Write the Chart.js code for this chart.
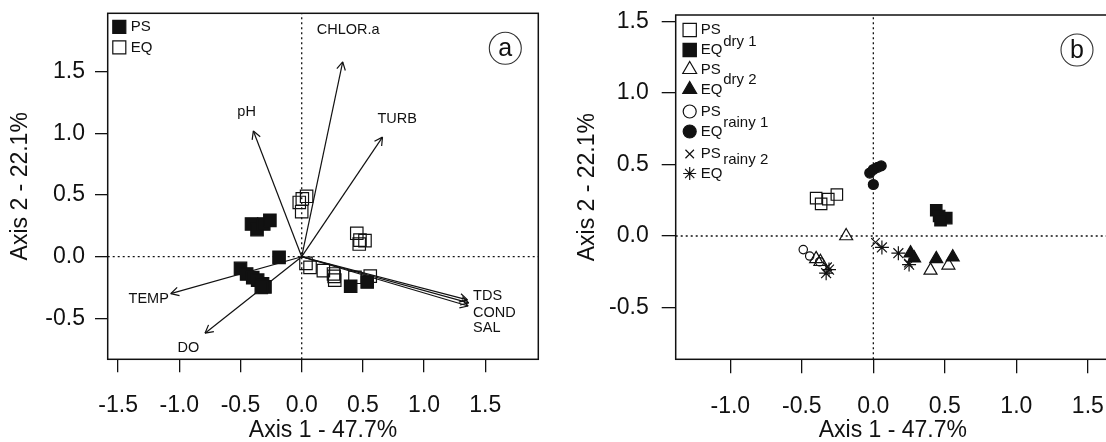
<!DOCTYPE html>
<html>
<head>
<meta charset="utf-8">
<title>PCA biplots</title>
<script src="https://cdn.jsdelivr.net/npm/chart.js@4.4.1/dist/chart.umd.min.js"></script>
<style>
  html, body { margin: 0; padding: 0; background: #fff; overflow: hidden; }
  body { width: 1106px; height: 442px; position: relative; }
  #chartA { position: absolute; left: 0; top: 0; }
  #chartB { position: absolute; left: 560px; top: 0; }
</style>
</head>
<body>
<canvas id="chartA" width="560" height="442"></canvas>
<canvas id="chartB" width="560" height="442"></canvas>
<script>
const FONT = '"Liberation Sans", Arial, sans-serif';
const INK = '#111';

// AXES

const xLimA = [-1.585, 1.933];
const yLimA = [-0.832, 1.974];
const xTicksA = [-1.5, -1.0, -0.5, 0.0, 0.5, 1.0, 1.5];
const yTicksA = [-0.5, 0.0, 0.5, 1.0, 1.5];

const xLimB = [-1.382, 1.655];
const yLimB = [-0.862, 1.545];
const xTicksB = [-1.0, -0.5, 0.0, 0.5, 1.0, 1.5];
const yTicksB = [-0.5, 0.0, 0.5, 1.0, 1.5];

const xTitle = 'Axis 1 - 47.7%';
const yTitle = 'Axis 2 - 22.1%';

// PANEL A : sites

const psAX = [-0.41, -0.365, -0.31, -0.26, -0.185, -0.50, -0.45, -0.40, -0.36, -0.32, -0.30, -0.33, 0.40, 0.535];
const psAY = [0.265, 0.22, 0.265, 0.295, -0.005, -0.095, -0.14, -0.17, -0.19, -0.22, -0.245, -0.25, -0.24, -0.205];
const eqAX = [-0.02, 0.005, 0.04, 0.0, 0.035, 0.068, 0.177, 0.26, 0.265, 0.27, 0.435, 0.56, 0.45, 0.476, 0.517, 0.47];
const eqAY = [0.44, 0.47, 0.49, 0.365, -0.054, -0.086, -0.113, -0.14, -0.16, -0.19, -0.167, -0.157, 0.19, 0.135, 0.13, 0.103];

// PANEL A : variables

const varNames = ['CHLOR.a', 'pH', 'TURB', 'TEMP', 'DO', 'TDS', 'COND', 'SAL'];
const varX = [0.335, -0.395, 0.66, -1.07, -0.79, 1.355, 1.365, 1.36];
const varY = [1.58, 1.02, 0.97, -0.30, -0.62, -0.35, -0.375, -0.40];
const varLabX = [0.38, -0.45, 0.78, -1.25, -0.926, 1.40, 1.40, 1.40];
const varLabY = [1.84, 1.17, 1.12, -0.345, -0.743, -0.32, -0.454, -0.58];
const varLabAlign = ['center', 'center', 'center', 'center', 'center', 'left', 'left', 'left'];

// PANEL B : sites by season

const psDry1X = [-0.40, -0.365, -0.315, -0.255];
const psDry1Y = [0.265, 0.225, 0.258, 0.29];
const eqDry1X = [0.44, 0.46, 0.51, 0.47];
const eqDry1Y = [0.18, 0.14, 0.125, 0.11];
const psDry2X = [-0.19, -0.40, -0.37, 0.40, 0.525];
const psDry2Y = [0.0, -0.16, -0.18, -0.24, -0.205];
const eqDry2X = [0.26, 0.285, 0.44, 0.555];
const eqDry2Y = [-0.12, -0.155, -0.16, -0.148];
const psRainy1X = [-0.49, -0.445, -0.375];
const psRainy1Y = [-0.095, -0.14, -0.18];
const eqRainy1X = [-0.025, 0.0, 0.03, 0.055, 0.0];
const eqRainy1Y = [0.44, 0.465, 0.48, 0.49, 0.36];
const psRainy2X = [-0.32, 0.015, 0.245];
const psRainy2Y = [-0.215, -0.045, -0.19];
const eqRainy2X = [-0.31, -0.33, 0.06, 0.175, 0.25];
const eqRainy2Y = [-0.235, -0.26, -0.08, -0.12, -0.2];

const legendA = [
    { label: 'PS', style: 'rect', filled: true },
    { label: 'EQ', style: 'rect', filled: false },
];
const legendB = [
    { label: 'PS', style: 'rect', filled: false },
    { label: 'EQ', style: 'rect', filled: true },
    { label: 'PS', style: 'triangle', filled: false },
    { label: 'EQ', style: 'triangle', filled: true },
    { label: 'PS', style: 'circle', filled: false },
    { label: 'EQ', style: 'circle', filled: true },
    { label: 'PS', style: 'crossRot', filled: false },
    { label: 'EQ', style: 'star', filled: false },
];
const seasonB = ['dry 1', 'dry 2', 'rainy 1', 'rainy 2'];


// HELPERS

const pts = (xs, ys) => xs.map((x, i) => ({ x: x, y: ys[i] }));

function marks(xs, ys, style, filled, r) {
    return {
        data: pts(xs, ys),
        pointStyle: style,
        pointRadius: r,
        pointBackgroundColor: filled ? INK : 'rgba(0,0,0,0)',
        pointBorderColor: INK,
        pointBorderWidth: 1.2,
        showLine: false,
    };
}

function refLines(xl, yl) {
    const base = { showLine: true, pointRadius: 0, borderColor: INK, borderWidth: 1.3, borderDash: [2, 3] };
    return [
        Object.assign({ data: [{ x: 0, y: yl[0] }, { x: 0, y: yl[1] }] }, base),
        Object.assign({ data: [{ x: xl[0], y: 0 }, { x: xl[1], y: 0 }] }, base),
    ];
}

function scalesFor(xl, yl, xt, yt, o) {
    return {
        x: {
            type: 'linear', min: xl[0], max: xl[1],
            afterBuildTicks: s => { s.ticks = xt.map(v => ({ value: v })); },
            afterFit: s => { s.height = o.xh; s.paddingLeft = 0; s.paddingRight = 0; },
            border: { display: false },
            grid: { drawOnChartArea: false, tickLength: o.xtl, color: INK, lineWidth: 1.3 },
            ticks: { padding: o.xpad, color: INK, font: { family: FONT, size: 23 }, maxRotation: 0, autoSkip: false, callback: v => v.toFixed(1) },
            title: { display: true, text: xTitle, color: INK, font: { family: FONT, size: 23, lineHeight: 1 }, padding: { top: 0, bottom: o.xtpad } },
        },
        y: {
            type: 'linear', min: yl[0], max: yl[1],
            afterBuildTicks: s => { s.ticks = yt.map(v => ({ value: v })); },
            afterFit: s => { s.width = o.yw; s.paddingTop = 0; s.paddingBottom = 0; },
            border: { display: false },
            grid: { drawOnChartArea: false, tickLength: o.ytl, color: INK, lineWidth: 1.3 },
            ticks: { padding: o.ypad, color: INK, font: { family: FONT, size: 23 }, autoSkip: false, callback: v => v.toFixed(1) },
            title: { display: true, text: yTitle, color: INK, font: { family: FONT, size: 23, lineHeight: 1 }, padding: { top: o.ytpad, bottom: 0 } },
        },
    };
}

function drawMark(ctx, style, filled, x, y, r) {
    ctx.beginPath();
    if (style === 'rect') {
        const s = r * Math.SQRT1_2;
        ctx.rect(x - s, y - s, 2 * s, 2 * s);
    } else if (style === 'circle') {
        ctx.arc(x, y, r, 0, Math.PI * 2);
    } else if (style === 'triangle') {
        ctx.moveTo(x, y - r);
        ctx.lineTo(x + r * 0.866, y + r * 0.5);
        ctx.lineTo(x - r * 0.866, y + r * 0.5);
        ctx.closePath();
    } else {
        const d = r * Math.SQRT1_2;
        ctx.moveTo(x - d, y - d); ctx.lineTo(x + d, y + d);
        ctx.moveTo(x - d, y + d); ctx.lineTo(x + d, y - d);
        if (style === 'star') {
            ctx.moveTo(x - r, y); ctx.lineTo(x + r, y);
            ctx.moveTo(x, y - r); ctx.lineTo(x, y + r);
        }
    }
    if (filled) ctx.fill();
    ctx.stroke();
}

const boxPlugin = {
    id: 'box',
    afterDatasetsDraw(chart) {
        const { ctx, chartArea: a } = chart;
        ctx.save();
        ctx.strokeStyle = INK;
        ctx.lineWidth = 1.5;
        ctx.strokeRect(a.left, a.top, a.right - a.left, a.bottom - a.top);
        ctx.restore();
    }
};

function panelTag(letter) {
    return {
        id: 'tag',
        afterDraw(chart) {
            const { ctx, chartArea: a } = chart;
            const cx = a.right - 33, cy = a.top + 35;
            ctx.save();
            ctx.strokeStyle = '#333';
            ctx.lineWidth = 1.1;
            ctx.beginPath();
            ctx.arc(cx, cy, 16, 0, Math.PI * 2);
            ctx.stroke();
            ctx.fillStyle = INK;
            ctx.font = '25px ' + FONT;
            ctx.textAlign = 'center';
            ctx.textBaseline = 'middle';
            ctx.fillText(letter, cx, cy + 1);
            ctx.restore();
        }
    };
}


// GRAPH A

const arrowPlugin = {
    id: 'arrows',
    afterDatasetsDraw(chart) {
        const { ctx, scales: { x, y } } = chart;
        const x0 = x.getPixelForValue(0), y0 = y.getPixelForValue(0);
        ctx.save();
        ctx.strokeStyle = INK;
        ctx.lineWidth = 1.2;
        varX.forEach((vx, i) => {
            const x1 = x.getPixelForValue(vx), y1 = y.getPixelForValue(varY[i]);
            const ang = Math.atan2(y1 - y0, x1 - x0);
            ctx.beginPath();
            [-1, 1].forEach(s => {
                ctx.moveTo(x1, y1);
                ctx.lineTo(x1 - 9 * Math.cos(ang + s * 0.5), y1 - 9 * Math.sin(ang + s * 0.5));
            });
            ctx.stroke();
        });
        ctx.fillStyle = INK;
        ctx.font = '14.5px ' + FONT;
        ctx.textBaseline = 'middle';
        varNames.forEach((n, i) => {
            ctx.textAlign = varLabAlign[i];
            ctx.fillText(n, x.getPixelForValue(varLabX[i]), y.getPixelForValue(varLabY[i]));
        });
        ctx.restore();
    }
};

const legendPluginA = {
    id: 'legendA',
    afterDraw(chart) {
        const { ctx, chartArea: a } = chart;
        ctx.save();
        ctx.strokeStyle = INK;
        ctx.fillStyle = INK;
        ctx.lineWidth = 1.2;
        ctx.font = '15px ' + FONT;
        ctx.textBaseline = 'middle';
        legendA.forEach((e, i) => {
            const yy = a.top + 13.5 + i * 20.6;
            drawMark(ctx, e.style, e.filled, a.left + 11.6, yy, 9.2);
            ctx.fillText(e.label, a.left + 23, yy);
        });
        ctx.restore();
    }
};

const arrowSets = varX.map((vx, i) => ({
    data: [{ x: 0, y: 0 }, { x: vx, y: varY[i] }],
    showLine: true, pointRadius: 0, borderColor: INK, borderWidth: 1.2,
}));

const chartA = new Chart(document.getElementById('chartA'), {
    type: 'scatter',
    data: {
        datasets: [
            marks(psAX, psAY, 'rect', true, 8.8),
            marks(eqAX, eqAY, 'rect', false, 8.8),
            ...arrowSets,
            ...refLines(xLimA, yLimA),
        ]
    },
    options: {
        responsive: false,
        animation: false,
        layout: { padding: { top: 13.3, right: 21.7, bottom: 0, left: 0 } },
        plugins: { legend: { display: false }, tooltip: { enabled: false } },
        scales: scalesFor(xLimA, yLimA, xTicksA, yTicksA, { xh: 82.7, xtl: 13, xpad: 20, xtpad: 0, yw: 107.7, ytl: 12.7, ypad: 10, ytpad: 9.5 }),
    },
    plugins: [boxPlugin, arrowPlugin, legendPluginA, panelTag('a')],
});

// FIN GRAPH A


// GRAPH B

const legendPluginB = {
    id: 'legendB',
    afterDraw(chart) {
        const { ctx, chartArea: a } = chart;
        const rows = [15, 35, 54.5, 74.5, 96.5, 116.5, 139, 158.5];
        const sizes = { rect: 9.4, triangle: 8, circle: 6.5, crossRot: 6, star: 6.5 };
        ctx.save();
        ctx.strokeStyle = INK;
        ctx.fillStyle = INK;
        ctx.lineWidth = 1.2;
        ctx.font = '15px ' + FONT;
        ctx.textBaseline = 'middle';
        legendB.forEach((e, i) => {
            const yy = a.top + rows[i];
            drawMark(ctx, e.style, e.filled, a.left + 14, yy, sizes[e.style]);
            ctx.fillText(e.label, a.left + 25, yy);
        });
        const seasonRows = [26.7, 64.5, 108.3, 145];
        seasonB.forEach((s, i) => {
            ctx.fillText(s, a.left + 47.5, a.top + seasonRows[i]);
        });
        ctx.restore();
    }
};

const chartB = new Chart(document.getElementById('chartB'), {
    type: 'scatter',
    data: {
        datasets: [
            marks(psDry1X, psDry1Y, 'rect', false, 8.1),
            marks(eqDry1X, eqDry1Y, 'rect', true, 8.1),
            marks(psDry2X, psDry2Y, 'triangle', false, 7.5),
            marks(eqDry2X, eqDry2Y, 'triangle', true, 7.5),
            marks(psRainy1X, psRainy1Y, 'circle', false, 4.2),
            marks(eqRainy1X, eqRainy1Y, 'circle', true, 5),
            marks(psRainy2X, psRainy2Y, 'crossRot', false, 6),
            marks(eqRainy2X, eqRainy2Y, 'star', false, 7),
            ...refLines(xLimB, yLimB),
        ]
    },
    options: {
        responsive: false,
        animation: false,
        layout: { padding: { top: 15, right: 10, bottom: 0, left: 0 } },
        plugins: { legend: { display: false }, tooltip: { enabled: false } },
        scales: scalesFor(xLimB, yLimB, xTicksB, yTicksB, { xh: 82.7, xtl: 14, xpad: 20, xtpad: 0, yw: 115.7, ytl: 14, ypad: 13, ytpad: 16.5 }),
    },
    plugins: [boxPlugin, legendPluginB, panelTag('b')],
});

// FIN GRAPH B
</script>
</body>
</html>
